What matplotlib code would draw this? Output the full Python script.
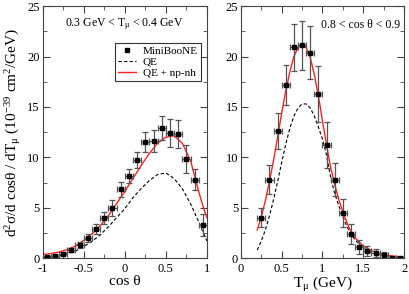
import matplotlib as mp
mp.use('Agg')
import matplotlib.pyplot as plt
from matplotlib.lines import Line2D
from matplotlib.ticker import MultipleLocator

# left panel: 0.3 GeV < T_mu < 0.4 GeV, vs cos theta
cos_bins = [-0.95, -0.85, -0.75, -0.65, -0.55, -0.45, -0.35, -0.25, -0.15, -0.05,
            0.05, 0.15, 0.25, 0.35, 0.45, 0.55, 0.65, 0.75, 0.85, 0.95]
cos_data = [0.15, 0.25, 0.45, 0.85, 1.35, 2.0, 2.9, 4.0, 5.0, 6.85,
            8.15, 9.7, 11.55, 11.6, 12.9, 12.4, 12.3, 9.8, 7.8, 3.3]
cos_err = [0.1, 0.1, 0.15, 0.2, 0.3, 0.4, 0.5, 0.6, 0.8, 0.75,
           0.7, 0.8, 1.0, 1.1, 1.2, 1.4, 1.4, 1.4, 1.0, 1.1]

cos_grid = [-1.0, -0.9, -0.8, -0.7, -0.6, -0.5, -0.4, -0.3, -0.2, -0.1, 0.0,
            0.1, 0.2, 0.3, 0.4, 0.5, 0.6, 0.7, 0.8, 0.9, 0.95, 1.0]
cos_full = [0.35, 0.45, 0.6, 0.85, 1.2, 1.75, 2.4, 3.2, 4.2, 5.4, 6.6,
            7.9, 9.2, 10.4, 11.4, 12.0, 12.15, 11.4, 9.7, 6.6, 5.2, 4.0]
cos_qe = [0.1, 0.15, 0.25, 0.45, 0.7, 1.15, 1.65, 2.3, 3.1, 4.0, 4.9,
          6.0, 6.9, 7.7, 8.3, 8.45, 7.9, 6.9, 5.4, 3.6, 2.6, 1.7]

# right panel: 0.8 < cos theta < 0.9, vs T_mu
t_bins = [0.25, 0.35, 0.45, 0.55, 0.65, 0.75, 0.85, 0.95, 1.05, 1.15,
          1.25, 1.35, 1.45, 1.55, 1.65, 1.75, 1.85, 1.95]
t_data = [4.0, 7.8, 12.6, 17.2, 20.9, 21.1, 20.4, 16.3, 11.2, 7.8,
          4.5, 2.4, 1.1, 0.7, 0.5, 0.35, 0.05, 0.05]
t_err = [0.95, 1.4, 1.8, 2.0, 2.3, 2.4, 2.6, 2.8, 2.3, 1.6,
         1.4, 1.0, 0.7, 0.5, 0.4, 0.3, 0.05, 0.05]

t_grid = [0.2, 0.25, 0.3, 0.35, 0.4, 0.45, 0.5, 0.55, 0.6, 0.65, 0.7, 0.75, 0.8,
          0.85, 0.9, 0.95, 1.0, 1.05, 1.1, 1.15, 1.2, 1.25, 1.3, 1.35, 1.4,
          1.5, 1.6, 1.7, 1.8, 1.9, 2.0]
t_full = [2.8, 4.1, 5.7, 7.6, 9.7, 12.0, 14.4, 16.6, 18.5, 20.0, 20.9, 21.2, 20.9,
          19.9, 18.2, 16.1, 13.6, 11.2, 9.0, 7.3, 5.8, 4.6, 3.5, 2.6, 2.0,
          1.2, 0.75, 0.45, 0.28, 0.17, 0.08]
t_qe = [0.8, 1.7, 2.8, 4.2, 5.8, 7.6, 9.5, 11.3, 12.9, 14.1, 14.9, 15.3, 15.3,
        14.9, 14.1, 13.0, 11.8, 10.2, 8.0, 6.4, 5.2, 4.1, 3.1, 2.4, 1.8,
        1.0, 0.55, 0.35, 0.2, 0.1, 0.05]

plt.rcParams['font.family'] = ['Liberation Serif', 'DejaVu Serif']
plt.rcParams['mathtext.fontset'] = 'custom'
plt.rcParams['mathtext.rm'] = 'Liberation Serif'
plt.rcParams['mathtext.it'] = 'Liberation Serif'
plt.rcParams['mathtext.bf'] = 'Liberation Serif'

fig = plt.figure(figsize=(4.09, 2.94), dpi=100)
ax1 = fig.add_axes([0.104, 0.122, 0.402, 0.857])
ax2 = fig.add_axes([0.589, 0.122, 0.399, 0.857])

ecol = '#555555'
for ax, xb, yd, ye, xg, yf, yq in [(ax1, cos_bins, cos_data, cos_err, cos_grid, cos_full, cos_qe),
                                    (ax2, t_bins, t_data, t_err, t_grid, t_full, t_qe)]:
    ax.plot(xg, yq, color='k', ls=(0, (3, 2)), lw=0.8)
    ax.plot(xg, yf, color='#ff2020', lw=1.0)
    ax.errorbar(xb, yd, yerr=ye, xerr=0.05, fmt='s', color='k', ms=3.5,
                ecolor=ecol, elinewidth=0.9, capsize=2, capthick=0.9)
    ax.set_ylim(0, 25)
    ax.yaxis.set_major_locator(MultipleLocator(5))
    ax.yaxis.set_minor_locator(MultipleLocator(2.5))
    ax.xaxis.set_major_locator(MultipleLocator(0.5))
    ax.xaxis.set_minor_locator(MultipleLocator(0.25))
    ax.tick_params(which='both', direction='in', top=True, right=True,
                   color='#444444', labelsize=9, pad=2)
    ax.tick_params(axis='x', which='both', pad=3.5)
    ax.tick_params(which='major', length=5)
    ax.tick_params(which='minor', length=3)
    for s in ax.spines.values():
        s.set_color('#444444')

ax1.set_xlim(-1, 1)
ax1.set_xticks([-1, -0.5, 0, 0.5, 1])
ax1.set_xticklabels(['-1', '-0.5', '0', '0.5', '1'])
ax2.set_xlim(0, 2)
ax2.set_xticks([0, 0.5, 1, 1.5, 2])
ax2.set_xticklabels(['0', '0.5', '1', '1.5', '2'])

ax1.set_xlabel('cos θ', fontsize=11, labelpad=0)
ax2.set_xlabel(r'T$_μ$ (GeV)', fontsize=11, labelpad=0)
ax1.set_ylabel(r'd$^2$σ/d cosθ / dT$_μ$ (10$^{-39}$ cm$^2$/GeV)',
               fontsize=11, labelpad=3)

ax1.text(0.5, 0.93, r'0.3 GeV < T$_μ$ < 0.4 GeV', transform=ax1.transAxes,
         ha='center', va='center', fontsize=8.5)
ax2.text(0.975, 0.925, '0.8 < cos θ < 0.9', transform=ax2.transAxes,
         ha='right', va='center', fontsize=8.5)

handles = [Line2D([], [], ls='none', marker='s', color='k', ms=3),
           Line2D([], [], color='k', ls=(0, (3, 2)), lw=0.8),
           Line2D([], [], color='#ff2020', lw=1.0)]
leg = ax1.legend(handles, ['MiniBooNE', 'QE', 'QE + np-nh'], loc='upper left',
                 bbox_to_anchor=(0.44, 0.855), fontsize=8, frameon=True,
                 fancybox=False, edgecolor='k', borderpad=0.3,
                 handlelength=1.6, handletextpad=0.6, labelspacing=0.1,
                 borderaxespad=0)
leg.get_frame().set_linewidth(0.8)

plt.savefig('out.png', dpi=100)
